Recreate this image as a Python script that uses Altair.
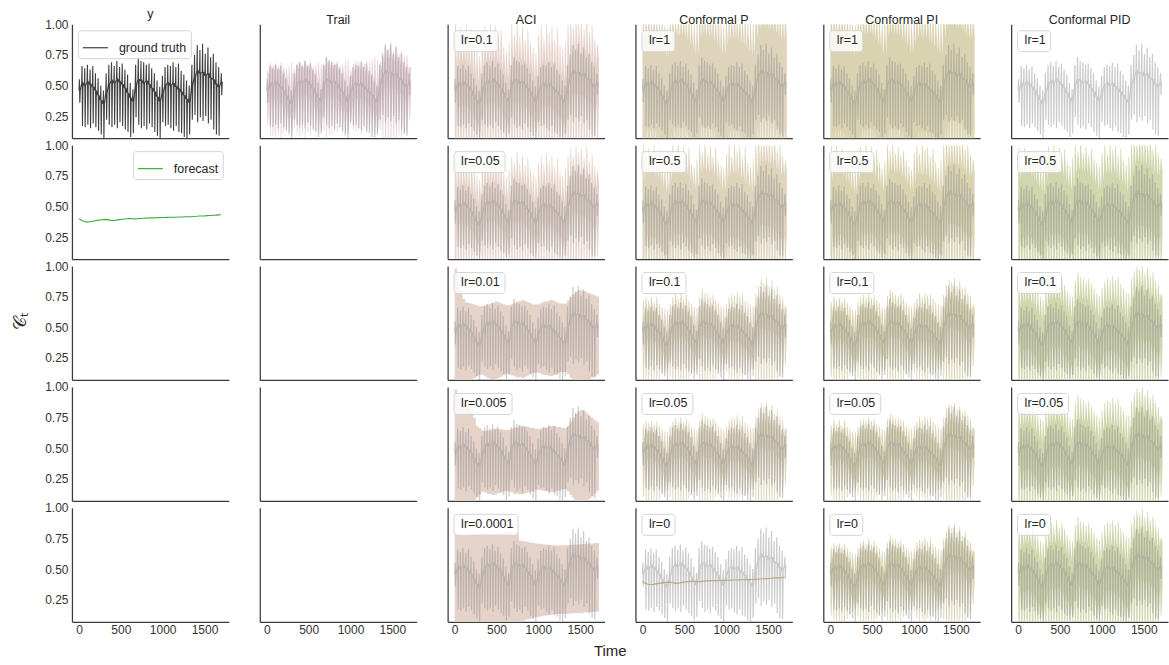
import altair as alt
import pandas as pd

# ---------------------------------------------------------------- data
# The series is stored one daily swing at a time: level, high, low, level.
CYCLE = 32
OFFSETS = [0, 5, 10, 16]          # sample times of the series inside a swing
BAND_OFFSETS = [0, 6, 14, 28]     # sample times of the prediction sets

y_mid = [0.46, 0.52, 0.50, 0.53, 0.51, 0.49, 0.46, 0.42, 0.38, 0.35,
         0.44, 0.51, 0.54, 0.52, 0.55, 0.53, 0.51, 0.48, 0.44, 0.40, 0.37,
         0.50, 0.55, 0.54, 0.52, 0.54, 0.51, 0.48, 0.45, 0.41, 0.37,
         0.44, 0.50, 0.52, 0.50, 0.52, 0.49, 0.47, 0.45, 0.42, 0.39, 0.36,
         0.50, 0.57, 0.62, 0.60, 0.61, 0.58, 0.60, 0.56, 0.55, 0.51, 0.49, 0.53]
y_hi = [0.55, 0.66, 0.64, 0.67, 0.63, 0.66, 0.60, 0.56, 0.50, 0.46,
        0.60, 0.67, 0.69, 0.66, 0.70, 0.65, 0.68, 0.63, 0.59, 0.52, 0.47,
        0.67, 0.73, 0.70, 0.69, 0.67, 0.68, 0.64, 0.60, 0.54, 0.49,
        0.58, 0.65, 0.67, 0.66, 0.69, 0.65, 0.68, 0.62, 0.59, 0.54, 0.50,
        0.67, 0.75, 0.83, 0.79, 0.84, 0.76, 0.81, 0.73, 0.76, 0.69, 0.65, 0.60]
y_lo = [0.36, 0.17, 0.16, 0.18, 0.15, 0.19, 0.16, 0.13, 0.10, 0.07,
        0.22, 0.18, 0.16, 0.18, 0.15, 0.20, 0.17, 0.14, 0.12, 0.08, 0.11,
        0.24, 0.18, 0.15, 0.17, 0.14, 0.19, 0.16, 0.12, 0.09, 0.07,
        0.20, 0.17, 0.18, 0.15, 0.13, 0.17, 0.12, 0.11, 0.08, 0.07, 0.10,
        0.22, 0.26, 0.20, 0.24, 0.21, 0.25, 0.19, 0.22, 0.14, 0.10, 0.09, 0.42]
forecast = [0.400, 0.385, 0.376, 0.372, 0.375, 0.379, 0.383, 0.386, 0.389, 0.392,
            0.394, 0.390, 0.386, 0.385, 0.388, 0.392, 0.395, 0.397, 0.399, 0.400,
            0.399, 0.398, 0.399, 0.401, 0.403, 0.404, 0.405, 0.406, 0.406, 0.407,
            0.408, 0.409, 0.409, 0.410, 0.411, 0.411, 0.412, 0.413, 0.413, 0.414,
            0.415, 0.415, 0.416, 0.418, 0.419, 0.421, 0.422, 0.423, 0.425, 0.426,
            0.428, 0.429, 0.431, 0.432]

# Half-widths of the prediction sets at each swing (around the forecast).
trail_q = [0.22, 0.30, 0.29, 0.31, 0.28, 0.31, 0.27, 0.25, 0.27, 0.30,
           0.24, 0.29, 0.31, 0.28, 0.32, 0.28, 0.30, 0.26, 0.27, 0.29, 0.28,
           0.28, 0.34, 0.31, 0.30, 0.28, 0.29, 0.26, 0.27, 0.30, 0.31,
           0.22, 0.27, 0.29, 0.28, 0.30, 0.27, 0.29, 0.28, 0.30, 0.32, 0.30,
           0.28, 0.35, 0.42, 0.38, 0.43, 0.36, 0.40, 0.33, 0.36, 0.31, 0.32, 0.22]

aci_lr0_1 = [0.62, 0.55, 0.60, 0.50, 0.62, 0.48, 0.58, 0.45, 0.40, 0.35,
             0.55, 0.60, 0.50, 0.63, 0.48, 0.60, 0.52, 0.56, 0.42, 0.38, 0.45,
             0.60, 0.52, 0.62, 0.50, 0.58, 0.47, 0.55, 0.44, 0.40, 0.36,
             0.50, 0.58, 0.48, 0.60, 0.52, 0.57, 0.46, 0.55, 0.42, 0.38, 0.44,
             0.58, 0.63, 0.55, 0.65, 0.60, 0.62, 0.54, 0.64, 0.50, 0.56, 0.45, 0.40]
aci_lr0_05 = [0.55, 0.50, 0.52, 0.46, 0.53, 0.44, 0.50, 0.40, 0.36, 0.33,
              0.48, 0.52, 0.45, 0.55, 0.47, 0.52, 0.44, 0.49, 0.38, 0.34, 0.40,
              0.50, 0.46, 0.54, 0.45, 0.51, 0.43, 0.49, 0.40, 0.36, 0.33,
              0.44, 0.50, 0.43, 0.52, 0.46, 0.50, 0.41, 0.48, 0.37, 0.34, 0.40,
              0.50, 0.55, 0.48, 0.57, 0.52, 0.55, 0.47, 0.56, 0.44, 0.49, 0.40, 0.36]
aci_lr0_01 = [0.58, 0.50, 0.42, 0.36, 0.33, 0.32, 0.31, 0.30, 0.29, 0.28,
              0.28, 0.29, 0.30, 0.31, 0.31, 0.32, 0.31, 0.30, 0.29, 0.28, 0.28,
              0.29, 0.30, 0.31, 0.31, 0.32, 0.31, 0.30, 0.29, 0.28, 0.28,
              0.28, 0.29, 0.30, 0.30, 0.31, 0.31, 0.30, 0.29, 0.28, 0.28, 0.28,
              0.30, 0.33, 0.35, 0.37, 0.38, 0.38, 0.37, 0.36, 0.35, 0.34, 0.33, 0.32]
aci_lr0_005 = [0.58, 0.55, 0.52, 0.49, 0.47, 0.45, 0.43, 0.36, 0.29, 0.27,
               0.25, 0.25, 0.26, 0.26, 0.27, 0.27, 0.26, 0.26, 0.25, 0.25, 0.25,
               0.26, 0.27, 0.27, 0.28, 0.28, 0.27, 0.27, 0.26, 0.26, 0.25,
               0.25, 0.25, 0.26, 0.26, 0.27, 0.27, 0.27, 0.26, 0.26, 0.25, 0.25,
               0.27, 0.30, 0.33, 0.36, 0.38, 0.39, 0.38, 0.36, 0.34, 0.32, 0.30, 0.28]
aci_lr0_0001 = [0.40, 0.40, 0.40, 0.40, 0.40, 0.40, 0.40, 0.40, 0.40, 0.40,
                0.40, 0.40, 0.40, 0.40, 0.40, 0.40, 0.40, 0.40, 0.40, 0.40, 0.40,
                0.40, 0.40, 0.40, 0.33, 0.325, 0.32, 0.315, 0.31, 0.305, 0.30,
                0.30, 0.295, 0.29, 0.29, 0.285, 0.285, 0.28, 0.28, 0.28, 0.28, 0.28,
                0.28, 0.28, 0.28, 0.28, 0.28, 0.28, 0.28, 0.28, 0.28, 0.28, 0.28, 0.28]

p_lr1 = [0.70, 0.66, 0.72, 0.64, 0.70, 0.68, 0.63, 0.66, 0.60, 0.58,
         0.66, 0.71, 0.65, 0.72, 0.67, 0.70, 0.64, 0.69, 0.62, 0.60, 0.63,
         0.70, 0.73, 0.66, 0.71, 0.65, 0.69, 0.63, 0.67, 0.60, 0.58,
         0.64, 0.69, 0.66, 0.72, 0.65, 0.70, 0.63, 0.68, 0.61, 0.59, 0.62,
         0.70, 0.74, 0.72, 0.76, 0.73, 0.75, 0.70, 0.74, 0.69, 0.71, 0.66, 0.62]
p_lr0_5 = [0.62, 0.55, 0.60, 0.52, 0.63, 0.50, 0.58, 0.48, 0.44, 0.40,
           0.56, 0.62, 0.50, 0.64, 0.52, 0.60, 0.54, 0.58, 0.45, 0.42, 0.48,
           0.60, 0.54, 0.63, 0.52, 0.59, 0.50, 0.57, 0.46, 0.43, 0.40,
           0.52, 0.60, 0.50, 0.62, 0.54, 0.58, 0.48, 0.57, 0.44, 0.41, 0.47,
           0.60, 0.65, 0.58, 0.66, 0.61, 0.64, 0.57, 0.65, 0.53, 0.58, 0.48, 0.44]
p_lr0_1 = [0.32, 0.36, 0.34, 0.38, 0.33, 0.37, 0.31, 0.28, 0.26, 0.25,
           0.30, 0.36, 0.39, 0.35, 0.40, 0.34, 0.38, 0.32, 0.29, 0.27, 0.26,
           0.35, 0.42, 0.38, 0.37, 0.34, 0.36, 0.32, 0.29, 0.27, 0.26,
           0.28, 0.34, 0.36, 0.35, 0.38, 0.34, 0.37, 0.31, 0.29, 0.27, 0.26,
           0.36, 0.42, 0.48, 0.44, 0.49, 0.41, 0.46, 0.38, 0.41, 0.34, 0.31, 0.24]
p_lr0_05 = [0.30, 0.34, 0.33, 0.35, 0.32, 0.34, 0.30, 0.27, 0.25, 0.24,
            0.29, 0.33, 0.36, 0.33, 0.37, 0.32, 0.35, 0.31, 0.28, 0.26, 0.25,
            0.33, 0.39, 0.36, 0.35, 0.33, 0.34, 0.31, 0.28, 0.26, 0.25,
            0.27, 0.32, 0.34, 0.33, 0.36, 0.32, 0.35, 0.30, 0.28, 0.26, 0.25,
            0.34, 0.40, 0.45, 0.42, 0.46, 0.39, 0.43, 0.36, 0.39, 0.33, 0.30, 0.23]

pi_lr1 = [0.68, 0.72, 0.65, 0.70, 0.73, 0.66, 0.69, 0.64, 0.61, 0.60,
          0.70, 0.66, 0.73, 0.68, 0.71, 0.65, 0.70, 0.67, 0.63, 0.61, 0.64,
          0.72, 0.69, 0.74, 0.67, 0.70, 0.66, 0.68, 0.64, 0.62, 0.59,
          0.66, 0.71, 0.68, 0.70, 0.67, 0.72, 0.65, 0.69, 0.63, 0.60, 0.63,
          0.72, 0.75, 0.70, 0.77, 0.74, 0.72, 0.76, 0.71, 0.73, 0.68, 0.66, 0.63]
pi_lr0_5 = [0.60, 0.57, 0.62, 0.50, 0.60, 0.52, 0.56, 0.47, 0.43, 0.40,
            0.58, 0.60, 0.52, 0.62, 0.55, 0.59, 0.51, 0.57, 0.46, 0.41, 0.47,
            0.61, 0.56, 0.60, 0.53, 0.58, 0.51, 0.55, 0.47, 0.42, 0.39,
            0.53, 0.59, 0.52, 0.60, 0.55, 0.57, 0.49, 0.56, 0.45, 0.40, 0.46,
            0.59, 0.64, 0.60, 0.65, 0.62, 0.63, 0.58, 0.64, 0.54, 0.57, 0.49, 0.45]
pi_lr0_1 = [0.31, 0.37, 0.35, 0.37, 0.34, 0.36, 0.32, 0.29, 0.26, 0.25,
            0.31, 0.35, 0.38, 0.36, 0.39, 0.35, 0.37, 0.33, 0.30, 0.27, 0.26,
            0.36, 0.41, 0.39, 0.36, 0.35, 0.37, 0.33, 0.30, 0.27, 0.26,
            0.29, 0.33, 0.37, 0.34, 0.37, 0.35, 0.36, 0.32, 0.29, 0.27, 0.26,
            0.35, 0.43, 0.47, 0.45, 0.48, 0.42, 0.45, 0.39, 0.40, 0.35, 0.32, 0.25]
pi_lr0_05 = [0.29, 0.35, 0.32, 0.36, 0.31, 0.35, 0.29, 0.27, 0.25, 0.24,
             0.28, 0.34, 0.35, 0.34, 0.36, 0.33, 0.34, 0.30, 0.28, 0.26, 0.25,
             0.34, 0.38, 0.37, 0.34, 0.34, 0.33, 0.32, 0.28, 0.26, 0.25,
             0.28, 0.31, 0.35, 0.32, 0.35, 0.33, 0.34, 0.31, 0.28, 0.26, 0.25,
             0.33, 0.41, 0.44, 0.43, 0.45, 0.40, 0.42, 0.37, 0.38, 0.34, 0.31, 0.24]
pi_lr0 = [0.28, 0.33, 0.32, 0.34, 0.31, 0.33, 0.29, 0.26, 0.24, 0.23,
          0.28, 0.32, 0.35, 0.32, 0.36, 0.31, 0.34, 0.30, 0.27, 0.25, 0.24,
          0.32, 0.38, 0.35, 0.34, 0.32, 0.33, 0.30, 0.27, 0.25, 0.24,
          0.26, 0.31, 0.33, 0.32, 0.35, 0.31, 0.34, 0.29, 0.27, 0.25, 0.24,
          0.33, 0.39, 0.44, 0.41, 0.45, 0.38, 0.42, 0.35, 0.38, 0.32, 0.29, 0.22]

pid_lr0_5 = [0.58, 0.54, 0.60, 0.52, 0.58, 0.50, 0.56, 0.48, 0.44, 0.42,
             0.55, 0.60, 0.52, 0.62, 0.54, 0.59, 0.51, 0.57, 0.46, 0.43, 0.49,
             0.60, 0.55, 0.63, 0.53, 0.58, 0.51, 0.56, 0.48, 0.45, 0.42,
             0.53, 0.59, 0.52, 0.61, 0.55, 0.58, 0.50, 0.56, 0.46, 0.43, 0.49,
             0.60, 0.64, 0.58, 0.66, 0.61, 0.63, 0.57, 0.65, 0.54, 0.58, 0.50, 0.46]
pid_lr0_1 = [0.45, 0.50, 0.47, 0.52, 0.46, 0.50, 0.44, 0.40, 0.36, 0.34,
             0.42, 0.49, 0.52, 0.48, 0.53, 0.47, 0.51, 0.45, 0.40, 0.36, 0.35,
             0.48, 0.55, 0.51, 0.50, 0.47, 0.49, 0.45, 0.41, 0.37, 0.35,
             0.41, 0.47, 0.49, 0.48, 0.51, 0.47, 0.50, 0.44, 0.40, 0.37, 0.36,
             0.48, 0.54, 0.58, 0.55, 0.59, 0.52, 0.56, 0.49, 0.52, 0.45, 0.42, 0.34]
pid_lr0_05 = [0.44, 0.49, 0.46, 0.51, 0.45, 0.49, 0.43, 0.39, 0.35, 0.33,
              0.41, 0.48, 0.51, 0.47, 0.52, 0.46, 0.50, 0.44, 0.39, 0.35, 0.34,
              0.47, 0.54, 0.50, 0.49, 0.46, 0.48, 0.44, 0.40, 0.36, 0.34,
              0.40, 0.46, 0.48, 0.47, 0.50, 0.46, 0.49, 0.43, 0.39, 0.36, 0.35,
              0.47, 0.53, 0.57, 0.54, 0.58, 0.51, 0.55, 0.48, 0.51, 0.44, 0.41, 0.33]
pid_lr0 = [0.43, 0.48, 0.45, 0.50, 0.44, 0.48, 0.42, 0.38, 0.34, 0.32,
           0.40, 0.47, 0.50, 0.46, 0.51, 0.45, 0.49, 0.43, 0.38, 0.34, 0.33,
           0.46, 0.53, 0.49, 0.48, 0.45, 0.47, 0.43, 0.39, 0.35, 0.33,
           0.39, 0.45, 0.47, 0.46, 0.49, 0.45, 0.48, 0.42, 0.38, 0.35, 0.34,
           0.46, 0.52, 0.56, 0.53, 0.57, 0.50, 0.54, 0.47, 0.50, 0.43, 0.40, 0.32]

columns = ["y", "Trail", "ACI", "Conformal P", "Conformal PI", "Conformal PID"]
aci_labels = ["lr=0.1", "lr=0.05", "lr=0.01", "lr=0.005", "lr=0.0001"]
ctrl_labels = ["lr=1", "lr=0.5", "lr=0.1", "lr=0.05", "lr=0"]
band_colors = {"Trail": "#e9d2da", "ACI": "#e5d3ca", "Conformal P": "#ded4bc",
               "Conformal PI": "#d9d3b1", "Conformal PID": "#d0d6ad"}

# (half-width at the swings, half-width around the level between swings;
#  None marks a set that moves smoothly around the forecast)
sets = {
    ("Trail", 0): (trail_q, 0.12),
    ("ACI", 0): (aci_lr0_1, 0.18), ("ACI", 1): (aci_lr0_05, 0.16),
    ("ACI", 2): (aci_lr0_01, None), ("ACI", 3): (aci_lr0_005, None),
    ("ACI", 4): (aci_lr0_0001, None),
    ("Conformal P", 0): (p_lr1, 0.38), ("Conformal P", 1): (p_lr0_5, 0.26),
    ("Conformal P", 2): (p_lr0_1, 0.12), ("Conformal P", 3): (p_lr0_05, 0.11),
    ("Conformal PI", 0): (pi_lr1, 0.39), ("Conformal PI", 1): (pi_lr0_5, 0.25),
    ("Conformal PI", 2): (pi_lr0_1, 0.12), ("Conformal PI", 3): (pi_lr0_05, 0.11),
    ("Conformal PI", 4): (pi_lr0, 0.11),
    ("Conformal PID", 1): (pid_lr0_5, 0.26), ("Conformal PID", 2): (pid_lr0_1, 0.20),
    ("Conformal PID", 3): (pid_lr0_05, 0.19), ("Conformal PID", 4): (pid_lr0, 0.19),
}

# ---------------------------------------------------------------- tables
truth_rows = []
for k in range(len(y_mid)):
    for off, v in zip(OFFSETS, [y_mid[k], y_hi[k], y_lo[k], y_mid[k]]):
        truth_rows.append({"t": CYCLE * k + off, "v": v})
truth = pd.DataFrame(truth_rows)
fc = pd.DataFrame({"t": [CYCLE * k for k in range(len(forecast))], "v": forecast})


def band_frame(q_swing, q_calm, label):
    rows = []
    for k, f in enumerate(forecast):
        qs = q_swing[k]
        if q_calm is None:
            spans = [(f, qs)] * 4
        else:
            spans = [(y_mid[k], q_calm), (f, qs), (f, qs), (y_mid[k], q_calm)]
        for off, (centre, q) in zip(BAND_OFFSETS, spans):
            rows.append({"t": CYCLE * k + off, "lo": centre - q, "hi": centre + q, "lab": label})
    return pd.DataFrame(rows)


# ---------------------------------------------------------------- panels
W, H = 157, 114
XS = alt.Scale(domain=[-84, 1790], nice=False, zero=False)
YS = alt.Scale(domain=[0.07, 1.0], nice=False, zero=False)
BOX = dict(fillColor="rgba(255,255,255,0.8)", strokeColor="#d4d4d4", cornerRadius=3,
           labelFontSize=12.5, labelColor="#262626", title=None, offset=6, padding=4)


def enc_x(bottom):
    return alt.X("t:Q", scale=XS, axis=alt.Axis(title=None, grid=False, ticks=False, labels=bottom,
                                                values=[0, 500, 1000, 1500], format="d",
                                                labelPadding=3))


def enc_y(field, left):
    return alt.Y(f"{field}:Q", scale=YS, axis=alt.Axis(title=None, grid=False, ticks=False, labels=left,
                                                       values=[0.25, 0.5, 0.75, 1.0], format=".2f",
                                                       labelPadding=4))


def label_legend():
    # text-only box: the symbol is hidden and the label pulled over its slot
    return alt.Legend(orient="top-left", symbolSize=1, symbolStrokeWidth=0,
                      symbolOpacity=0, labelOffset={"expr": "-9"}, **BOX)


def line_legend(orient):
    return alt.Legend(orient=orient, symbolType="stroke", symbolSize=625,
                      symbolStrokeWidth=1.2, labelOffset=10, **BOX)


def make_panel(r, c):
    name = columns[c]
    bottom, left = r == 4, c == 0
    layers = []
    if name == "y":
        if r == 0:
            d = truth.assign(s="ground truth")
            layers.append(alt.Chart(d).mark_line(clip=True, strokeWidth=1.1).encode(
                x=enc_x(bottom), y=enc_y("v", left),
                color=alt.Color("s:N", scale=alt.Scale(range=["#404040"]), legend=line_legend("top-left"))))
        elif r == 1:
            d = fc.assign(s="forecast")
            layers.append(alt.Chart(d).mark_line(clip=True, strokeWidth=1.1).encode(
                x=enc_x(bottom), y=enc_y("v", left),
                color=alt.Color("s:N", scale=alt.Scale(range=["#3cab3c"]), legend=line_legend("top-right"))))
        else:
            layers.append(alt.Chart(fc).mark_line(opacity=0).encode(x=enc_x(bottom), y=enc_y("v", left)))
    elif name == "Trail" and r > 0:
        layers.append(alt.Chart(fc).mark_line(opacity=0).encode(x=enc_x(bottom), y=enc_y("v", left)))
    else:
        label = "" if name == "Trail" else (aci_labels[r] if name == "ACI" else ctrl_labels[r])
        spec = sets.get((name, r))
        if spec is not None:
            d = band_frame(spec[0], spec[1], label)
            if name == "Trail":
                col_enc = alt.value(band_colors[name])
            else:
                col_enc = alt.Color("lab:N", scale=alt.Scale(range=[band_colors[name]]), legend=label_legend())
            layers.append(alt.Chart(d).mark_area(clip=True).encode(
                x=enc_x(bottom), y=enc_y("lo", left), y2="hi:Q", color=col_enc))
            layers.append(alt.Chart(truth).mark_line(clip=True, strokeWidth=1.2, color="#8c8c8c", opacity=0.45)
                          .encode(x=enc_x(bottom), y=enc_y("v", left)))
        else:
            d = truth.assign(lab=label)
            layers.append(alt.Chart(d).mark_line(clip=True, strokeWidth=1.2, opacity=0.45).encode(
                x=enc_x(bottom), y=enc_y("v", left),
                color=alt.Color("lab:N", scale=alt.Scale(range=["#8c8c8c"]), legend=label_legend())))
            if name == "Conformal P":
                layers.append(alt.Chart(fc).mark_line(clip=True, strokeWidth=1.2, color="#b8a78a")
                              .encode(x=enc_x(bottom), y=enc_y("v", left)))
    ch = alt.layer(*layers).properties(width=W, height=H)
    if r == 0:
        ch = ch.properties(title=alt.TitleParams(name, fontSize=12.5, fontWeight="normal", offset=-2,
                                                 color="#262626"))
    return ch


panels = [make_panel(r, c) for r in range(5) for c in range(6)]

grid = alt.concat(*panels, columns=6, bounds="flush").resolve_scale(color="independent").properties(
    title=alt.TitleParams("𝒞ₜ", orient="left", anchor="middle", fontSize=18, fontWeight="normal",
                          offset=14, color="#262626"))
grid.spacing = {"row": 7, "column": 31}

chart = alt.vconcat(grid).resolve_scale(color="independent").properties(
    title=alt.TitleParams("Time", orient="bottom", anchor="middle", fontSize=15, fontWeight="normal",
                          offset=8, dx=20, color="#262626"),
    padding={"left": 12, "top": 7, "right": 0, "bottom": 2},
).configure(font="Liberation Sans").configure_view(stroke="transparent").configure_axis(
    domainColor="#3a3a3a", domainWidth=1.25, labelColor="#333333", labelFontSize=12,
    labelFont="Liberation Sans",
).configure_legend(labelFont="Liberation Sans")

chart.save("out.html", embed_options={"renderer": "svg", "actions": False})
